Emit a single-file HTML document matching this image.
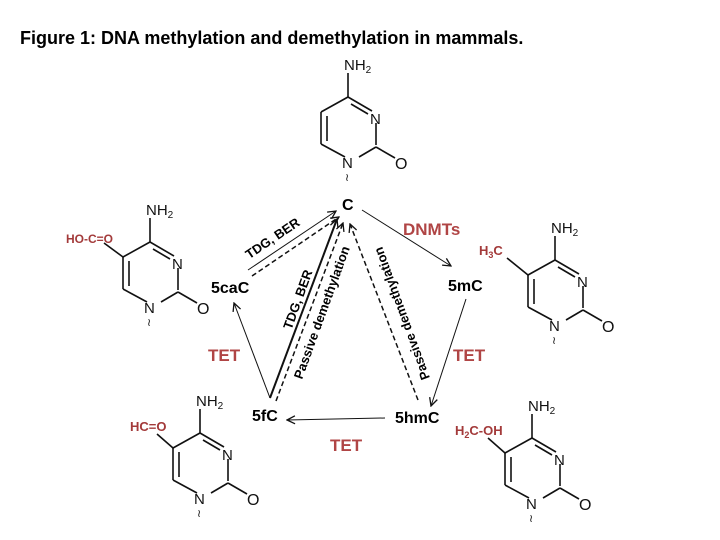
<!DOCTYPE html>
<html><head><meta charset="utf-8"><style>
html,body{margin:0;padding:0;background:#fff;}
svg{display:block;font-family:"Liberation Sans",Arial,sans-serif;}
.b{stroke:#111;stroke-width:1.6;fill:none}
.lab{font-size:12px;fill:#111}
.red{fill:#a33a3a}
.node{font-size:16px;font-weight:bold;fill:#000}
.tet{font-size:17px;font-weight:bold;fill:#b04545}
.rl{font-size:13px;font-weight:bold}
</style></head><body>
<svg width="720" height="540" viewBox="0 0 720 540">
<defs>
<marker id="ah" markerWidth="10" markerHeight="10" refX="9" refY="5" orient="auto" markerUnits="userSpaceOnUse">
<path d="M1,1 L9,5 L1,9" fill="none" stroke="#111" stroke-width="1.3"/></marker>
<g id="ring">
<line class="b" x1="0" y1="0" x2="0" y2="-24"/>
<line class="b" x1="0" y1="0" x2="24" y2="14"/>
<line class="b" x1="3" y1="7" x2="20" y2="17"/>
<line class="b" x1="28" y1="26" x2="28" y2="48"/>
<line class="b" x1="28" y1="50" x2="47" y2="61"/>
<line class="b" x1="28" y1="50" x2="11" y2="60"/>
<line class="b" x1="-3" y1="60" x2="-27" y2="47"/>
<line class="b" x1="-27" y1="47" x2="-27" y2="15"/>
<line class="b" x1="-21" y1="44" x2="-21" y2="19"/>
<line class="b" x1="-27" y1="15" x2="0" y2="0"/>
<text x="-4" y="-27" class="lab" style="font-size:15px">NH<tspan font-size="10" dy="3">2</tspan></text>
<text x="22" y="27" class="lab" style="font-size:15px">N</text>
<text x="47" y="72" class="lab" style="font-size:16px">O</text>
<text x="-6" y="71" class="lab" style="font-size:15px">N</text>
<text x="-3" y="84" class="lab" style="font-size:11px">≀</text>
</g>
</defs>
<text x="20" y="44" style="font-size:18px;font-weight:bold">Figure 1: DNA methylation and demethylation in mammals.</text>

<use href="#ring" x="348" y="97"/>
<use href="#ring" x="150" y="242"/>
<line class="b" x1="123" y1="257" x2="104" y2="243"/>
<text x="66" y="243" class="lab red" style="font-size:12px;font-weight:bold">HO-C=O</text>
<use href="#ring" x="555" y="260"/>
<line class="b" x1="528" y1="275" x2="507" y2="258"/>
<text x="479" y="255" class="lab red" style="font-size:13px;font-weight:bold">H<tspan font-size="9" dy="3">3</tspan><tspan dy="-3">C</tspan></text>
<use href="#ring" x="200" y="433"/>
<line class="b" x1="173" y1="448" x2="157" y2="434"/>
<text x="130" y="431" class="lab red" style="font-size:13px;font-weight:bold">HC=O</text>
<use href="#ring" x="532" y="438"/>
<line class="b" x1="505" y1="453" x2="488" y2="438"/>
<text x="455" y="435" class="lab red" style="font-size:13px;font-weight:bold">H<tspan font-size="9" dy="3">2</tspan><tspan dy="-3">C-OH</tspan></text>

<text x="342" y="210" class="node">C</text>
<text x="211" y="293" class="node">5caC</text>
<text x="448" y="291" class="node">5mC</text>
<text x="252" y="421" class="node">5fC</text>
<text x="395" y="423" class="node">5hmC</text>

<text x="403" y="235" class="tet">DNMTs</text>
<text x="208" y="361" class="tet">TET</text>
<text x="453" y="361" class="tet">TET</text>
<text x="330" y="451" class="tet">TET</text>

<g stroke="#111" fill="none" stroke-width="1">
<line x1="362" y1="210" x2="451" y2="266" marker-end="url(#ah)"/>
<line x1="466" y1="299" x2="431" y2="406" marker-end="url(#ah)"/>
<line x1="385" y1="418" x2="287" y2="420" marker-end="url(#ah)"/>
<line x1="270" y1="398" x2="234" y2="303" marker-end="url(#ah)"/>
<line x1="248" y1="270" x2="336" y2="211" marker-end="url(#ah)"/>
<line x1="252" y1="276" x2="339" y2="217" stroke-dasharray="5,3" stroke-width="1.5" marker-end="url(#ah)"/>
<line x1="270" y1="398" x2="337" y2="219" stroke-width="2" marker-end="url(#ah)"/>
<line x1="276" y1="401" x2="343" y2="223" stroke-dasharray="5,3" stroke-width="1.5" marker-end="url(#ah)"/>
<line x1="418" y1="400" x2="350" y2="224" stroke-dasharray="5,3" stroke-width="1.5" marker-end="url(#ah)"/>
</g>
<text transform="translate(275,242) rotate(-34)" class="rl" text-anchor="middle">TDG, BER</text>
<text transform="translate(302,301) rotate(-70)" class="rl" text-anchor="middle">TDG, BER</text>
<text transform="translate(326,314) rotate(-70)" class="rl" text-anchor="middle">Passive demethylation</text>
<text transform="translate(406,312) rotate(-110)" class="rl" text-anchor="middle">Passive demethylation</text>
</svg>
</body></html>
